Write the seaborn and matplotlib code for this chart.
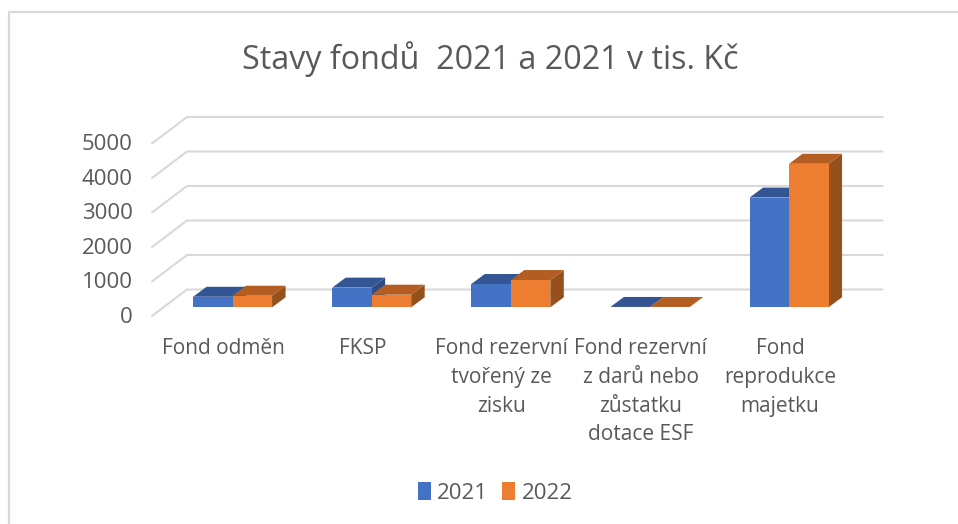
import matplotlib
matplotlib.use("Agg")
import matplotlib.pyplot as plt
import matplotlib.transforms as mtrans
import seaborn as sns
import pandas as pd
from matplotlib.lines import Line2D
from matplotlib.patches import Polygon

categories = ['Fond odměn', 'FKSP', 'Fond rezervní\ntvořený ze\nzisku',
              'Fond rezervní\nz darů nebo\nzůstatku\ndotace ESF', 'Fond\nreprodukce\nmajetku']
values_2021 = [305, 570, 675, 10, 3180]
values_2022 = [335, 365, 790, 10, 4160]
y_ticks = [0, 1000, 2000, 3000, 4000, 5000]

df = pd.DataFrame({'fond': categories * 2,
                   'hodnota': values_2021 + values_2022,
                   'rok': ['2021'] * 5 + ['2022'] * 5})

sns.set_theme(style='white')
plt.rcParams['font.family'] = ['Open Sans', 'DejaVu Sans']
text_color = '#595959'
grid_color = '#d9d9d9'

W, H = 958, 524
fig = plt.figure(figsize=(W / 100, H / 100), dpi=100)
ax = fig.add_axes([163 / W, (H - 307.3) / H, 695.6 / W, 172.5 / H])

colors = {'2021': '#4472c4', '2022': '#ed7d31'}
tops = {'2021': '#345594', '2022': '#b35d22'}
sides = {'2021': '#2f4d85', '2022': '#96501c'}

sns.barplot(data=df, x='fond', y='hodnota', hue='rok', palette=colors, width=0.568,
            gap=0, saturation=1, ax=ax, zorder=3, linewidth=0, errorbar=None)
ax.set_xlim(-0.5, 4.5)
ax.set_ylim(0, 5000)
sns.despine(ax=ax, left=True, bottom=True)
ax.set_xlabel('')
ax.set_ylabel('')
ax.patch.set_alpha(0)

# pixel depth -> data units, the fake 3D is all offsets from the real bars
px_x = 5 / 695.6
px_y = 5000 / 172.5

# back wall gridlines
for t in y_ticks:
    y_back = t + 17.8 * px_y
    ax.plot([-0.5 - 11 * px_x, -0.5 + 24 * px_x, 4.5 + 24 * px_x],
            [t - 8.7 * px_y, y_back, y_back],
            color=grid_color, lw=1.5, clip_on=False, zorder=1)

# top and side faces of every bar
dx, dy = 13.5 * px_x, 10 * px_y
for z, (container, rok) in enumerate(zip(ax.containers, ['2021', '2022'])):
    for bar in container:
        x0, w, h = bar.get_x(), bar.get_width(), bar.get_height()
        ax.add_patch(Polygon([(x0 + w, 0), (x0 + w + dx, dy), (x0 + w + dx, h + dy), (x0 + w, h)],
                             facecolor=sides[rok], lw=0, clip_on=False, zorder=2 + z * 0.1))
        ax.add_patch(Polygon([(x0, h), (x0 + w, h), (x0 + w + dx, h + dy), (x0 + dx, h + dy)],
                             facecolor=tops[rok], lw=0, clip_on=False, zorder=2.05 + z * 0.1))

# axis labels sit on the front edge of the floor, not in the bar plane
ax.set_yticks(y_ticks)
ax.tick_params(axis='y', length=0, pad=22, labelsize=16, labelcolor=text_color)
ax.tick_params(axis='x', length=0, pad=22, labelsize=15, labelcolor=text_color)
for lab in ax.get_yticklabels():
    lab.set_transform(lab.get_transform() + mtrans.ScaledTranslation(0, -0.075, fig.dpi_scale_trans))
for lab in ax.get_xticklabels():
    lab.set_transform(lab.get_transform() + mtrans.ScaledTranslation(-0.09, 0, fig.dpi_scale_trans))
    lab.set_linespacing(1.49)

fig.text(490 / W, (H - 59) / H, 'Stavy fondů  2021 a 2021 v tis. Kč', ha='center', va='center',
         fontsize=23.2, color=text_color)

leg = ax.legend(loc='center', bbox_to_anchor=(495 / W, (H - 493) / H), bbox_transform=fig.transFigure,
                ncol=2, frameon=False, fontsize=16, labelcolor=text_color, handlelength=0.6,
                handleheight=0.85, handletextpad=0.27, columnspacing=0.64, title=None)

# chart frame, cropped on the right and bottom in the screenshot
fig.add_artist(Line2D([8.5 / W, 8.5 / W, 1], [0, (H - 11.5) / H, (H - 11.5) / H],
                      color=grid_color, lw=1.6))

fig.savefig('out.png', dpi=100)
